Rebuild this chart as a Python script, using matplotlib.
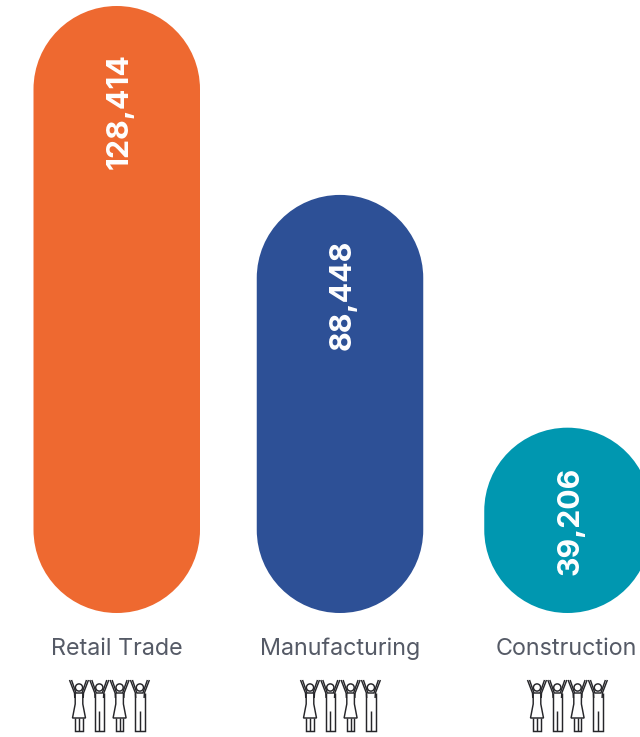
import matplotlib
matplotlib.use('Agg')
import matplotlib.pyplot as plt
from matplotlib.patches import PathPatch, Circle
from matplotlib.path import Path

categories = ['Retail Trade', 'Manufacturing', 'Construction']
values = [128414, 88448, 39206]
colors = ['#EE6930', '#2D5096', '#0097B0']

# layout in pixels of the 640x737 picture
W, H = 640, 737
BASE_Y = 613
PX_PER_UNIT = 607 / 128414
BAR_W = 166.5
centers = [116.75, 340, 567.5]
num_offsets = [105, 100, 93.5]
label_centers = [117, 340.5, 566.5]
icon_lefts = [69, 300, 527]

plt.rcParams['font.family'] = ['Inter', 'DejaVu Sans']

fig = plt.figure(figsize=(W / 100, H / 100), dpi=100, facecolor='white')
ax = fig.add_axes([0, 0, 1, 1])
ax.set_xlim(0, W)
ax.set_ylim(-(H - BASE_Y) / PX_PER_UNIT, BASE_Y / PX_PER_UNIT)
ax.axis('off')


def pill_path(c, v):
    # rounded bar, corners are real quarter circles once on screen
    r = BAR_W / 2
    ry = r / PX_PER_UNIT
    k = 0.5523
    x0, x1 = c - r, c + r
    verts = [(x0, ry), (x0, v - ry),
             (x0, v - ry + k * ry), (c - k * r, v), (c, v),
             (c + k * r, v), (x1, v - ry + k * ry), (x1, v - ry),
             (x1, ry),
             (x1, ry - k * ry), (c + k * r, 0), (c, 0),
             (c - k * r, 0), (x0, ry - k * ry), (x0, ry),
             (x0, ry)]
    codes = [Path.MOVETO, Path.LINETO] + [Path.CURVE4] * 6 + [Path.LINETO] + [Path.CURVE4] * 6 + [Path.CLOSEPOLY]
    return Path(verts, codes)


for c, v, col, off in zip(centers, values, colors, num_offsets):
    ax.add_patch(PathPatch(pill_path(c, v), facecolor=col, edgecolor='none'))
    ax.text(c + 2.5, v - off / PX_PER_UNIT, f'{v:,}', rotation=90, ha='center', va='center',
            color='white', fontsize=21.8, fontweight='bold')

# second axes in plain pixels for the captions and icons
px = fig.add_axes([0, 0, 1, 1], facecolor='none')
px.set_xlim(0, W)
px.set_ylim(H, 0)
px.axis('off')

for lc, name in zip(label_centers, categories):
    px.text(lc, 649, name, ha='center', va='center', color='#555A66', fontsize=16.8)

INK = '#26262A'
LW = 1.05


def person(x, dress):
    # x is the middle of the figure, top of the icon is y=680
    kw = dict(color=INK, lw=LW, solid_capstyle='butt', solid_joinstyle='miter')
    px.add_patch(Circle((x, 687.5), 3.6, fill=False, ec=INK, lw=LW))
    # arms
    px.plot([x - 9.5, x - 4.5, x - 4.2], [680, 693, 698], **kw)
    px.plot([x + 9.5, x + 4.5, x + 4.2], [680, 693, 698], **kw)
    px.plot([x - 7.5, x - 3, x + 3, x + 7.5], [680, 693, 693, 680], **kw)
    if dress:
        px.plot([x - 3.8, x - 3.8, x - 6.5, x + 6.5, x + 3.8, x + 3.8],
                [693, 704, 718, 718, 704, 693], **kw)
        px.plot([x - 3.6, x - 3.6, x + 3.6, x + 3.6], [718, 731, 731, 718], **kw)
        px.plot([x, x], [718, 731], **kw)
    else:
        px.plot([x - 4.6, x - 4.6, x + 4.6, x + 4.6], [693, 731, 731, 693], **kw)
        px.plot([x, x], [711, 731], **kw)


for left in icon_lefts:
    for i in range(4):
        person(left + 10 + i * 20.3, i % 2 == 0)

fig.savefig('out.png', dpi=100)
